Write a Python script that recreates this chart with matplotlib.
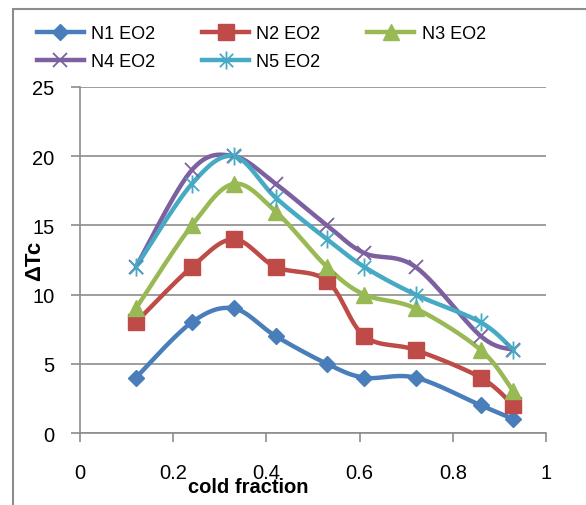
import numpy as np
import matplotlib.pyplot as plt
from matplotlib.path import Path
from matplotlib.patches import Rectangle
from matplotlib.lines import Line2D

plt.rcParams['font.family'] = ['Liberation Sans', 'DejaVu Sans']

# cold fraction values and temperature drop for each nozzle
cold_fraction = [0.12, 0.24, 0.33, 0.42, 0.53, 0.61, 0.72, 0.86, 0.93]
n1 = [4, 8, 9, 7, 5, 4, 4, 2, 1]
n2 = [8, 12, 14, 12, 11, 7, 6, 4, 2]
n3 = [9, 15, 18, 16, 12, 10, 9, 6, 3]
n4 = [12, 19, 20, 18, 15, 13, 12, 7, 6]
n5 = [12, 18, 20, 17, 14, 12, 10, 8, 6]
labels = ['N1 EO2', 'N2 EO2', 'N3 EO2', 'N4 EO2', 'N5 EO2']

# asterisk marker: an X with a vertical bar through it
star = Path([(-1, -1), (1, 1), (-1, 1), (1, -1), (0, -1.35), (0, 1.35)],
            [Path.MOVETO, Path.LINETO] * 3)

styles = [
    dict(color='#4A7EBB', marker='D', ms=8.5),
    dict(color='#BE4B48', marker='s', ms=11),
    dict(color='#98B954', marker='^', ms=12),
    dict(color='#7D60A0', marker='x', ms=10, mew=1.3),
    dict(color='#46AAC5', marker=star, ms=13, mew=1.3),
]


def smooth(x, y, steps=30):
    # bezier smoothing through every point, like a spreadsheet's smoothed line
    p = np.column_stack([x, y]).astype(float)
    n = len(p)
    out = []
    t = np.linspace(0, 1, steps)[:, None]
    for i in range(n - 1):
        p0 = p[max(i - 1, 0)]
        p3 = p[min(i + 2, n - 1)]
        c1 = p[i] + (p[i + 1] - p0) / 6
        c2 = p[i + 1] - (p3 - p[i]) / 6
        seg = ((1 - t) ** 3 * p[i] + 3 * (1 - t) ** 2 * t * c1
               + 3 * (1 - t) * t ** 2 * c2 + t ** 3 * p[i + 1])
        out.append(seg if i == 0 else seg[1:])
    seg = np.vstack(out)
    return seg[:, 0], seg[:, 1]


fig = plt.figure(figsize=(5.86, 5.06), dpi=100)
ax = fig.add_axes([80 / 586, 1 - 434 / 506, 466 / 586, 346 / 506])

handles = []
for ys, st, lab in zip([n1, n2, n3, n4, n5], styles, labels):
    sx, sy = smooth(cold_fraction, ys)
    ax.plot(sx, sy, color=st['color'], lw=3.2, solid_capstyle='round', zorder=3)
    ax.plot(cold_fraction, ys, ls='none', marker=st['marker'], ms=st['ms'],
            color=st['color'], mec=st['color'], mew=st.get('mew', 1), zorder=4)
    handles.append(Line2D([], [], color=st['color'], lw=3.2, marker=st['marker'],
                          ms=st['ms'], mew=st.get('mew', 1)))

ax.set_xlim(0, 1)
ax.set_ylim(0, 25)
ax.set_xticks([0, 0.2, 0.4, 0.6, 0.8, 1])
ax.set_xticklabels(['0', '0.2', '0.4', '0.6', '0.8', '1'])
ax.set_yticks([0, 5, 10, 15, 20, 25])
ax.yaxis.grid(True, color='#8C8C8C', lw=1.2)
ax.set_axisbelow(True)
for s in ['top', 'right']:
    ax.spines[s].set_visible(False)
for s in ['left', 'bottom']:
    ax.spines[s].set_color('#8C8C8C')
    ax.spines[s].set_linewidth(1.2)
ax.tick_params(axis='both', direction='out', length=6.5, width=1.2,
               color='#8C8C8C', labelsize=14.5)
ax.tick_params(axis='x', pad=15)
ax.tick_params(axis='y', pad=12)

fig.text(248 / 586, 1 - 488 / 506, 'cold fraction', fontsize=14.5,
         fontweight='bold', ha='center', va='center')
fig.text(35 / 586, 1 - 261 / 506, 'ΔTc', fontsize=16, fontweight='bold',
         rotation=90, ha='center', va='center')

# legend filled row by row: N1 N2 N3 / N4 N5
order = [0, 3, 1, 4, 2]
fig.legend([handles[i] for i in order], [labels[i] for i in order], ncol=3,
           loc='upper left', frameon=False,
           bbox_to_anchor=(37 / 586, 1 - 26 / 506), fontsize=13,
           handlelength=2.6, handletextpad=0.4, columnspacing=2.6,
           labelspacing=0.6, borderpad=0, borderaxespad=0)

# chart area border
fig.add_artist(Rectangle((13 / 586, -0.1), 1.2, 1.1 - 10 / 506,
                         transform=fig.transFigure, fill=False,
                         edgecolor='#8C8C8C', lw=1.5))

fig.savefig('out.png', dpi=100)
